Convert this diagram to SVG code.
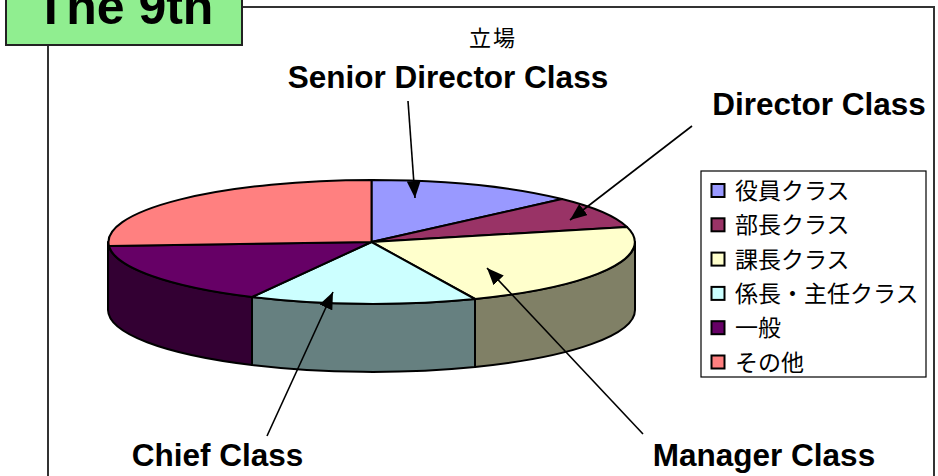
<svg xmlns="http://www.w3.org/2000/svg" width="938" height="476" viewBox="0 0 938 476">
<defs>
<style>
.lbl{font-family:"Liberation Sans",Arial,sans-serif;font-weight:bold;font-size:31.5px;fill:#000;text-anchor:middle}
.jp{font-family:"Liberation Sans","Noto Sans CJK JP",sans-serif;fill:#000}
.leg{font-size:23px}
.slice{stroke:#000;stroke-width:2;stroke-linejoin:round}
.conn{stroke:#000;stroke-width:1.6;fill:none;marker-end:url(#ah)}
.sw{stroke:#000;stroke-width:2}
</style>
<marker id="ah" markerUnits="userSpaceOnUse" markerWidth="18" markerHeight="14" refX="17" refY="7" orient="auto">
<path d="M0,0 L17,7 L0,14 Z" fill="#000"/>
</marker>
</defs>
<rect width="938" height="476" fill="#fff"/>
<g id="frame">
<rect x="48" y="7" width="886" height="490" fill="none" stroke="#333" stroke-width="2"/>
</g>
<g id="badge">
<rect x="6" y="-10" width="236" height="55" fill="#90EE90" stroke="#222" stroke-width="2"/>
<text x="124.5" y="24" font-family="Liberation Sans,Arial,sans-serif" font-weight="bold" font-size="50" text-anchor="middle">The 9th</text>
</g>
<g id="title">
<text class="jp" x="493" y="46" font-size="22" letter-spacing="2" text-anchor="middle">立場</text>
</g>
<g id="pie">
<g id="sides">
<path class="slice" fill="#330033" d="M252,297 A263.5,62 0 0 1 108,242 L108,310 A263.5,62 0 0 0 252,365 Z"/>
<path class="slice" fill="#668080" d="M475,299 A263.5,62 0 0 1 252,297 L252,365 A263.5,62 0 0 0 475,367 Z"/>
<path class="slice" fill="#808066" d="M635,242 A263.5,62 0 0 1 475,299 L475,367 A263.5,62 0 0 0 635,310 Z"/>
</g>
<g id="slice-yakuin"><path class="slice" fill="#9999FF" d="M371.5,242 L371.5,180 A263.5,62 0 0 1 562,199 Z"/></g>
<g id="slice-bucho"><path class="slice" fill="#993366" d="M371.5,242 L562,199 A263.5,62 0 0 1 627,227 Z"/></g>
<g id="slice-kacho"><path class="slice" fill="#FFFFCC" d="M371.5,242 L627,227 A263.5,62 0 0 1 475,299 Z"/></g>
<g id="slice-kakaricho"><path class="slice" fill="#CCFFFF" d="M371.5,242 L475,299 A263.5,62 0 0 1 252,297 Z"/></g>
<g id="slice-ippan"><path class="slice" fill="#660066" d="M371.5,242 L252,297 A263.5,62 0 0 1 109,246 Z"/></g>
<g id="slice-sonota"><path class="slice" fill="#FF8080" d="M371.5,242 L109,246 A263.5,62 0 0 1 371.5,180 Z"/></g>
</g>
<g id="legend">
<rect x="701" y="171" width="225" height="206" fill="#fff" stroke="#000" stroke-width="1.2"/>
<rect class="sw" x="711.5" y="184" width="13" height="13" fill="#9999FF"/>
<rect class="sw" x="711.5" y="218.3" width="13" height="13" fill="#993366"/>
<rect class="sw" x="711.5" y="252.6" width="13" height="13" fill="#FFFFCC"/>
<rect class="sw" x="711.5" y="286.9" width="13" height="13" fill="#CCFFFF"/>
<rect class="sw" x="711.5" y="321.2" width="13" height="13" fill="#660066"/>
<rect class="sw" x="711.5" y="355.5" width="13" height="13" fill="#FF8080"/>
<text class="jp leg" x="735" y="199">役員クラス</text>
<text class="jp leg" x="735" y="233.3">部長クラス</text>
<text class="jp leg" x="735" y="267.6">課長クラス</text>
<text class="jp leg" x="735" y="301.9">係長・主任クラス</text>
<text class="jp leg" x="735" y="336.2">一般</text>
<text class="jp leg" x="735" y="370.5">その他</text>
</g>
<g id="labels">
<g id="lbl-senior"><text class="lbl" x="448" y="88">Senior Director Class</text></g>
<g id="lbl-director"><text class="lbl" x="819" y="115">Director Class</text></g>
<g id="lbl-chief"><text class="lbl" x="217.5" y="466">Chief Class</text></g>
<g id="lbl-manager"><text class="lbl" x="764" y="466">Manager Class</text></g>
</g>
<g id="connectors">
<line class="conn" x1="408" y1="101" x2="415" y2="198"/>
<line class="conn" x1="692" y1="126" x2="570" y2="220"/>
<line class="conn" x1="643" y1="434" x2="487" y2="268"/>
<line class="conn" x1="267" y1="436" x2="333" y2="292"/>
</g>
</svg>
